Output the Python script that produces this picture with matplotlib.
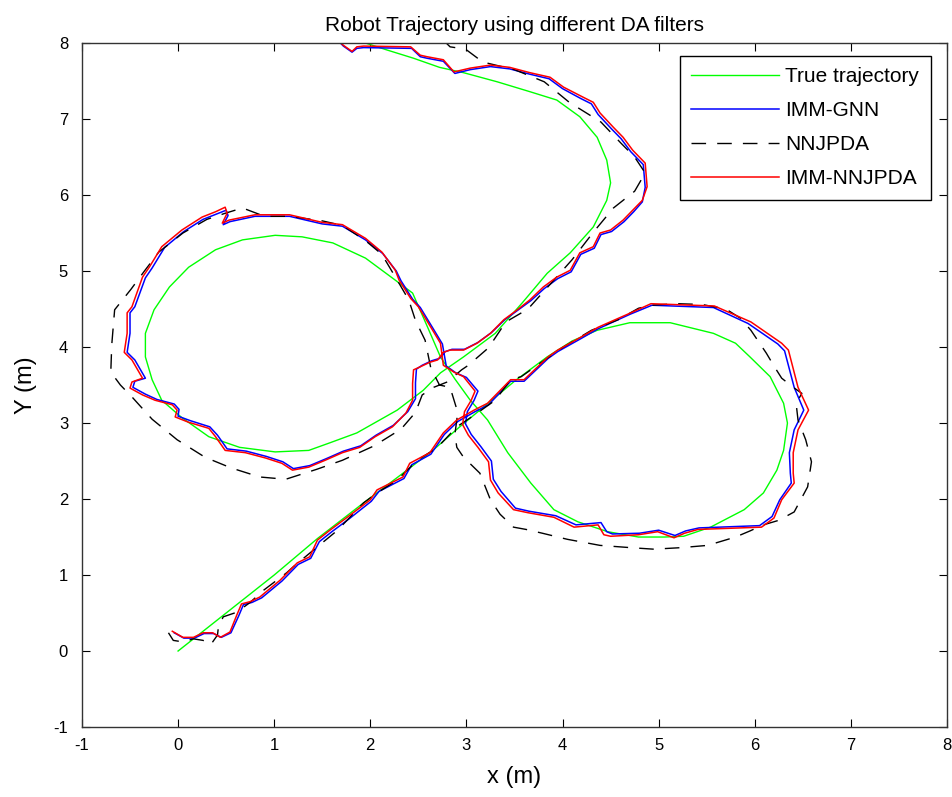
import numpy as np
import matplotlib
matplotlib.use("Agg")
import matplotlib.pyplot as plt

plt.rcParams['font.family'] = ['Liberation Sans', 'DejaVu Sans']
plt.rcParams['lines.scale_dashes'] = False
plt.rcParams['axes.unicode_minus'] = False

# --- True trajectory (x, y) in metres ---
true_x = [0.00, 0.54, 1.00, 1.45, 1.90, 2.34, 2.65, 2.93, 3.14, 3.50, 3.84, 4.10, 4.36,
          4.70, 5.12, 5.57, 5.80, 5.95, 6.16, 6.30, 6.34, 6.30, 6.23, 6.09, 5.89, 5.54, 5.26,
          5.06, 4.79, 4.47, 4.16, 3.91, 3.67, 3.43, 3.22, 3.04, 2.88, 2.73, 2.60, 2.44,
          2.26, 1.95, 1.61, 1.29, 1.01, 0.67, 0.39, 0.11, -0.09, -0.25, -0.34, -0.34,
          -0.27, -0.17, 0.04, 0.32, 0.64, 1.01, 1.36, 1.58, 1.86, 2.07, 2.28, 2.55, 2.73,
          2.97, 3.30, 3.58, 3.84, 4.08, 4.32, 4.46, 4.50, 4.46, 4.36, 4.18, 3.94, 3.66,
          3.32, 2.97, 2.72, 2.45, 2.17, 1.95, 1.70]
true_y = [0.00, 0.54, 1.00, 1.48, 1.92, 2.34, 2.64, 2.95, 3.17, 3.55, 3.87, 4.08, 4.22,
          4.32, 4.32, 4.18, 4.05, 3.87, 3.61, 3.26, 3.00, 2.64, 2.38, 2.08, 1.86, 1.63, 1.51,
          1.50, 1.50, 1.57, 1.70, 1.86, 2.21, 2.61, 3.04, 3.30, 3.58, 3.87, 4.25, 4.71,
          4.88, 5.17, 5.37, 5.45, 5.47, 5.41, 5.28, 5.05, 4.79, 4.49, 4.18, 3.87,
          3.57, 3.30, 3.07, 2.82, 2.68, 2.62, 2.64, 2.74, 2.87, 3.02, 3.17, 3.43, 3.66,
          3.87, 4.18, 4.58, 4.97, 5.24, 5.58, 5.93, 6.16, 6.46, 6.76, 7.03, 7.25, 7.36,
          7.49, 7.61, 7.68, 7.80, 7.91, 8.00, 8.10]

# --- IMM-GNN estimate ---
gnn_x = [-0.04, 0.06, 0.17, 0.27, 0.37, 0.45, 0.55, 0.63, 0.68, 0.77, 0.87, 1.08, 1.25,
         1.38, 1.47, 1.60, 1.78, 2.01, 2.09, 2.35, 2.43, 2.63, 2.77, 2.91, 3.09, 3.23,
         3.46, 3.60, 3.85, 3.95, 4.19, 4.37, 4.70, 4.93, 5.57, 5.93, 6.24, 6.31, 6.41,
         6.51, 6.41, 6.36, 6.37, 6.38, 6.26, 6.18, 6.05, 5.42, 5.28, 5.17, 5.00, 4.80,
         4.52, 4.46, 4.40, 4.14, 3.93, 3.65, 3.51, 3.36, 3.28, 3.26, 3.15, 3.05, 2.99,
         3.01, 3.08, 3.12, 3.00, 2.89, 2.79, 2.75, 2.65, 2.52, 2.44, 2.32, 2.27, 2.13,
         1.95, 1.71, 1.50, 1.16, 0.80, 0.54, 0.47, 0.52, 0.50, 0.40, 0.26, 0.06, -0.14,
         -0.27, -0.34, -0.45, -0.50, -0.50, -0.53, -0.45, -0.34, -0.45, -0.47, -0.34,
         -0.22, -0.04, 0.01, 0.00, 0.13, 0.33, 0.41, 0.51, 0.71, 0.92, 1.09, 1.20, 1.37,
         1.54, 1.72, 1.90, 2.06, 2.24, 2.39, 2.47, 2.47, 2.48, 2.54, 2.64, 2.72, 2.78,
         2.85, 2.98, 3.12, 3.26, 3.40, 3.54, 3.67, 3.81, 3.95, 4.09, 4.19, 4.33, 4.40,
         4.51, 4.64, 4.74, 4.83, 4.86, 4.84, 4.71, 4.61, 4.51, 4.37, 4.30, 4.19, 4.00,
         3.86, 3.66, 3.45, 3.25, 3.04, 2.88, 2.76, 2.59, 2.52, 2.43, 1.93, 1.86, 1.81,
         1.72, 1.65]
gnn_y = [0.24, 0.17, 0.17, 0.23, 0.23, 0.18, 0.24, 0.46, 0.61, 0.64, 0.70, 0.92, 1.14,
         1.22, 1.44, 1.57, 1.74, 1.97, 2.10, 2.27, 2.45, 2.59, 2.85, 3.02, 3.15, 3.24,
         3.55, 3.55, 3.85, 3.94, 4.11, 4.24, 4.43, 4.55, 4.52, 4.31, 4.04, 3.95, 3.47,
         3.17, 2.91, 2.61, 2.34, 2.21, 1.99, 1.77, 1.65, 1.62, 1.58, 1.52, 1.59, 1.55,
         1.54, 1.57, 1.69, 1.66, 1.78, 1.84, 1.88, 2.10, 2.26, 2.50, 2.69, 2.85, 2.99,
         3.15, 3.30, 3.42, 3.60, 3.66, 3.75, 4.04, 4.25, 4.52, 4.63, 4.87, 5.00, 5.23,
         5.41, 5.59, 5.62, 5.72, 5.72, 5.65, 5.61, 5.73, 5.80, 5.75, 5.68, 5.52, 5.31,
         5.04, 4.91, 4.53, 4.45, 4.18, 3.93, 3.83, 3.59, 3.55, 3.47, 3.38, 3.31, 3.25,
         3.18, 3.09, 3.03, 2.95, 2.84, 2.66, 2.63, 2.56, 2.49, 2.40, 2.44, 2.53, 2.63,
         2.70, 2.84, 2.97, 3.15, 3.32, 3.53, 3.71, 3.76, 3.82, 3.85, 3.94, 3.97, 3.97,
         4.06, 4.19, 4.36, 4.49, 4.61, 4.77, 4.90, 4.99, 5.22, 5.30, 5.48, 5.52, 5.65,
         5.78, 5.91, 6.10, 6.40, 6.57, 6.74, 6.87, 7.06, 7.20, 7.27, 7.40, 7.53, 7.59,
         7.66, 7.69, 7.65, 7.60, 7.76, 7.80, 7.82, 7.93, 7.94, 7.93, 7.88, 7.96, 8.05]

# --- NNJPDA estimate ---
nnjpda_x = [-0.10, -0.05, 0.05, 0.16, 0.26, 0.33, 0.36, 0.41, 0.42, 0.47, 0.61, 0.75, 0.89,
            1.13, 1.20, 1.41, 1.66, 1.93, 2.07, 2.28, 2.49, 2.70, 2.90, 3.10, 3.30, 3.46,
            3.57, 3.77, 4.01, 4.30, 4.58, 4.79, 4.92, 5.20, 5.45, 5.70, 5.85, 5.96, 6.05,
            6.12, 6.20, 6.28, 6.40, 6.49, 6.43, 6.45, 6.53, 6.59, 6.55, 6.41, 6.25, 6.09,
            5.95, 5.80, 5.51, 5.23, 4.95, 4.71, 4.39, 4.05, 3.79, 3.62, 3.49, 3.35, 3.25,
            3.14, 2.97, 2.90, 2.88, 2.91, 2.83, 2.72, 2.63, 2.57, 2.47, 2.40, 2.28, 2.12,
            1.95, 1.71, 1.50, 1.16, 0.90, 0.67, 0.49, 0.30, 0.05, -0.20, -0.35, -0.49,
            -0.66, -0.69, -0.70, -0.60, -0.47, -0.27, -0.01, 0.28, 0.55, 0.85, 1.12, 1.44,
            1.71, 2.04, 2.32, 2.47, 2.54, 2.66, 2.80, 2.95, 3.02, 3.23, 3.41, 3.64, 3.91,
            4.10, 4.32, 4.53, 4.75, 4.86, 4.75, 4.61, 4.40, 4.07, 3.81, 3.50, 3.17, 2.99,
            2.83, 2.75]
nnjpda_y = [0.24, 0.14, 0.12, 0.16, 0.14, 0.08, 0.12, 0.21, 0.32, 0.45, 0.51, 0.64, 0.80,
            1.03, 1.11, 1.33, 1.59, 1.95, 2.08, 2.25, 2.51, 2.68, 2.95, 3.12, 3.30, 3.57,
            3.61, 3.79, 4.00, 4.22, 4.36, 4.51, 4.55, 4.57, 4.56, 4.50, 4.38, 4.22, 4.05,
            3.92, 3.75, 3.59, 3.47, 3.39, 3.26, 3.04, 2.78, 2.49, 2.16, 1.83, 1.72, 1.66,
            1.58, 1.50, 1.39, 1.36, 1.34, 1.36, 1.39, 1.47, 1.55, 1.60, 1.63, 1.80, 1.99,
            2.34, 2.55, 2.68, 2.85, 3.14, 3.47, 3.50, 3.72, 4.09, 4.35, 4.62, 4.88, 5.22,
            5.40, 5.60, 5.66, 5.72, 5.72, 5.83, 5.76, 5.68, 5.50, 5.25, 5.00, 4.76,
            4.49, 4.03, 3.67, 3.50, 3.33, 3.05, 2.78, 2.55, 2.41, 2.29, 2.26, 2.39,
            2.51, 2.70, 2.92, 3.14, 3.37, 3.47, 3.54, 3.70, 3.76, 3.99, 4.33, 4.50, 4.88,
            5.15, 5.51, 5.83, 6.05, 6.29, 6.50, 6.68, 6.96, 7.22, 7.49, 7.65, 7.75, 7.92,
            7.95, 8.05]

# --- IMM-NNJPDA estimate ---
immnn_x = [-0.06, 0.05, 0.16, 0.26, 0.36, 0.44, 0.54, 0.61, 0.66, 0.75, 0.85, 1.06, 1.24,
           1.37, 1.45, 1.58, 1.76, 2.00, 2.07, 2.34, 2.41, 2.62, 2.76, 2.90, 3.08, 3.22,
           3.46, 3.60, 3.85, 3.95, 4.19, 4.37, 4.71, 4.92, 5.58, 5.96, 6.28, 6.35, 6.45,
           6.56, 6.45, 6.40, 6.40, 6.41, 6.28, 6.20, 6.07, 5.41, 5.27, 5.16, 4.99, 4.79,
           4.50, 4.43, 4.37, 4.12, 3.91, 3.64, 3.49, 3.33, 3.25, 3.23, 3.12, 3.02, 2.96,
           2.98, 3.05, 3.09, 2.97, 2.87, 2.76, 2.73, 2.63, 2.50, 2.42, 2.30, 2.26, 2.12,
           1.95, 1.71, 1.50, 1.16, 0.80, 0.53, 0.46, 0.51, 0.49, 0.39, 0.25, 0.04, -0.17,
           -0.30, -0.37, -0.48, -0.53, -0.53, -0.56, -0.48, -0.37, -0.48, -0.50, -0.37,
           -0.24, -0.06, -0.01, -0.03, 0.11, 0.32, 0.39, 0.49, 0.70, 0.91, 1.08, 1.19, 1.36,
           1.53, 1.71, 1.89, 2.05, 2.23, 2.37, 2.44, 2.44, 2.45, 2.52, 2.62, 2.70, 2.76,
           2.83, 2.97, 3.11, 3.25, 3.39, 3.53, 3.66, 3.80, 3.94, 4.08, 4.18, 4.32, 4.39,
           4.50, 4.63, 4.73, 4.83, 4.88, 4.86, 4.73, 4.63, 4.53, 4.39, 4.32, 4.21, 4.01,
           3.87, 3.66, 3.45, 3.25, 3.04, 2.87, 2.76, 2.59, 2.52, 2.42, 1.93, 1.86, 1.81,
           1.72, 1.65]
immnn_y = [0.26, 0.18, 0.18, 0.24, 0.24, 0.18, 0.25, 0.47, 0.62, 0.65, 0.71, 0.93, 1.16,
           1.24, 1.46, 1.59, 1.76, 1.99, 2.12, 2.29, 2.47, 2.61, 2.87, 3.04, 3.17, 3.26,
           3.57, 3.57, 3.87, 3.96, 4.13, 4.26, 4.45, 4.57, 4.54, 4.33, 4.05, 3.96, 3.47,
           3.17, 2.91, 2.61, 2.34, 2.21, 1.99, 1.75, 1.63, 1.60, 1.55, 1.49, 1.57, 1.53,
           1.51, 1.53, 1.66, 1.63, 1.76, 1.82, 1.86, 2.08, 2.25, 2.49, 2.68, 2.84, 2.98,
           3.15, 3.30, 3.42, 3.61, 3.67, 3.76, 4.05, 4.26, 4.53, 4.64, 4.88, 5.01, 5.25,
           5.43, 5.61, 5.64, 5.74, 5.74, 5.67, 5.63, 5.76, 5.84, 5.78, 5.71, 5.54, 5.32,
           5.05, 4.92, 4.53, 4.45, 4.18, 3.93, 3.83, 3.59, 3.54, 3.46, 3.37, 3.30, 3.24,
           3.17, 3.08, 3.01, 2.93, 2.82, 2.64, 2.61, 2.54, 2.47, 2.38, 2.42, 2.51, 2.61,
           2.68, 2.82, 2.95, 3.13, 3.30, 3.52, 3.70, 3.74, 3.80, 3.83, 3.93, 3.96, 3.96,
           4.05, 4.18, 4.36, 4.49, 4.62, 4.79, 4.92, 5.01, 5.24, 5.32, 5.50, 5.54, 5.67,
           5.80, 5.93, 6.11, 6.42, 6.59, 6.76, 6.89, 7.08, 7.22, 7.29, 7.42, 7.55, 7.61,
           7.68, 7.71, 7.67, 7.62, 7.78, 7.82, 7.84, 7.95, 7.96, 7.95, 7.89, 7.97, 8.05]

fig = plt.figure(figsize=(9.53, 7.97), dpi=100)
ax = fig.add_axes([0.0860, 0.0878, 0.9077, 0.8582])

ax.plot(true_x, true_y, color=(0, 1, 0), lw=1.0, label='True trajectory')
ax.plot(gnn_x, gnn_y, color=(0, 0, 1), lw=1.1, label='IMM-GNN')
ax.plot(nnjpda_x, nnjpda_y, color='k', lw=1.0, dashes=(10.5, 8.0), label='NNJPDA')
ax.plot(immnn_x, immnn_y, color=(1, 0, 0), lw=1.1, label='IMM-NNJPDA')

ax.set_xlim(-1, 8)
ax.set_ylim(-1, 8)
ax.set_xticks(range(-1, 9))
ax.set_yticks(range(-1, 9))
ax.tick_params(direction='in', top=True, right=True, length=6, width=0.8,
               labelsize=12, colors='k')
ax.tick_params(axis='x', pad=8)
ax.tick_params(axis='y', pad=10)
for s in ax.spines.values():
    s.set_linewidth(1.0)
    s.set_color('#333333')

ax.set_title('Robot Trajectory using different DA filters', fontsize=15, pad=9)
ax.set_xlabel('x (m)', fontsize=17, labelpad=9)
ax.set_ylabel('Y (m)', fontsize=17, labelpad=12)

leg = ax.legend(loc='upper right', bbox_to_anchor=(0.981, 0.981), borderaxespad=0,
                fontsize=15, handlelength=4.2, handletextpad=0.3, labelspacing=0.72,
                borderpad=0.55, fancybox=False, framealpha=1)
leg.get_frame().set_edgecolor('k')
leg.get_frame().set_linewidth(1.0)

fig.savefig('out.png', dpi=100)
